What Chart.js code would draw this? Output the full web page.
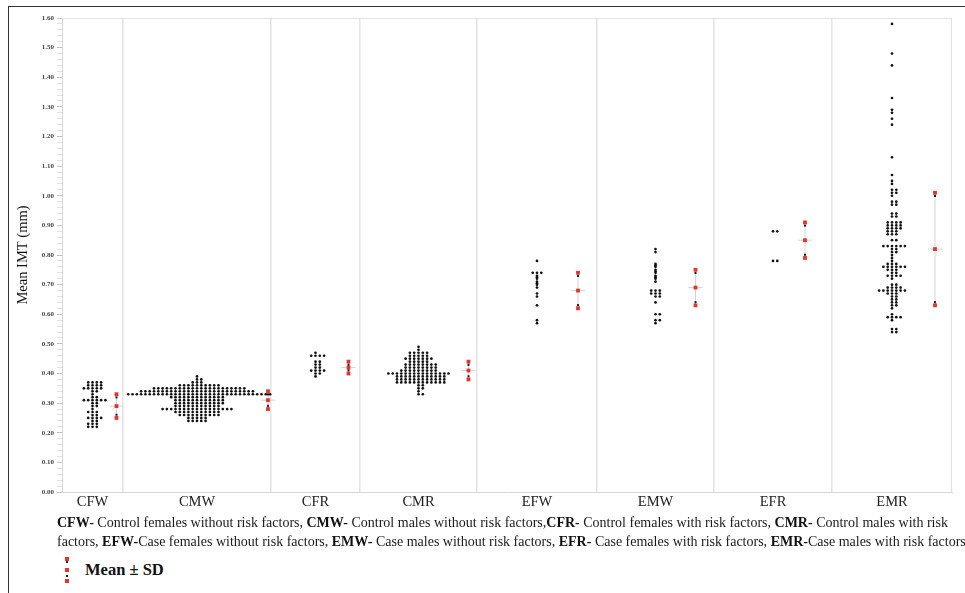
<!DOCTYPE html>
<html>
<head>
<meta charset="utf-8">
<script src="https://cdn.jsdelivr.net/npm/chart.js@4.4.1/dist/chart.umd.min.js"></script>
<style>
  html, body { margin: 0; padding: 0; background: #fff; }
  body { width: 965px; height: 593px; position: relative; overflow: hidden;
         font-family: "Liberation Serif", "Times New Roman", serif; color: #111; }
  #frame { position: absolute; left: 8px; top: 6px; width: 970px; height: 600px;
           border-left: 1.5px solid #333; border-top: 1.5px solid #333; }
  #wrap { position: absolute; left: 0; top: 0; width: 965px; height: 520px; }
  #caption { position: absolute; left: 57px; top: 514px; font-size: 14px; line-height: 18.5px;
             white-space: nowrap; color: #1a1a1a; }
  #caption b { font-weight: bold; color: #111; }
  #legend { position: absolute; left: 62px; top: 552px; width: 140px; height: 34px; }
  #legend .sq { position: absolute; width: 3.5px; height: 3.5px; background: #e8322b; left: 3px; }
  #legend .bk { position: absolute; width: 1.6px; height: 1.6px; background: #222; left: 4px; }
  #legend .txt { position: absolute; left: 23px; top: 8px; font-size: 16.5px; font-weight: bold; color: #111; }
</style>
</head>
<body>
<div id="frame"></div>
<div id="wrap"><canvas id="chart" width="965" height="520"></canvas></div>
<div id="caption">
  <div><b>CFW-</b> Control females without risk factors, <b>CMW-</b> Control males without risk factors,<b>CFR-</b> Control females with risk factors, <b>CMR-</b> Control males with risk</div>
  <div>factors, <b>EFW-</b>Case females without risk factors, <b>EMW-</b> Case males without risk factors, <b>EFR-</b> Case females with risk factors, <b>EMR-</b>Case males with risk factors</div>
</div>
<div id="legend">
  <span class="sq" style="top:5px"></span>
  <span class="bk" style="top:9px"></span>
  <span class="sq" style="top:16px"></span>
  <span class="bk" style="top:23px"></span>
  <span class="sq" style="top:27px"></span>
  <span class="txt">Mean ± SD</span>
</div>
<script>
// Groups
const categories = ['CFW', 'CMW', 'CFR', 'CMR', 'EFW', 'EMW', 'EFR', 'EMR'];

// Mean IMT (mm) levels and number of subjects at each level, per group
const cfwLevels = [0.37, 0.36, 0.35, 0.34, 0.33, 0.32, 0.31, 0.30, 0.29, 0.28, 0.27, 0.26, 0.25, 0.24, 0.23, 0.22];
const cfwCounts = [4, 4, 5, 2, 1, 2, 6, 2, 2, 1, 3, 2, 4, 2, 3, 3];

const cmwLevels = [0.39, 0.38, 0.37, 0.36, 0.35, 0.34, 0.33, 0.32, 0.31, 0.30, 0.29, 0.28, 0.27, 0.26, 0.25, 0.24];
const cmwCounts = [1, 2, 3, 10, 22, 27, 34, 13, 12, 12, 11, 17, 11, 10, 5, 5];

const cfrLevels = [0.47, 0.46, 0.44, 0.43, 0.42, 0.41, 0.40, 0.39];
const cfrCounts = [1, 4, 2, 2, 2, 4, 2, 1];

const cmrLevels = [0.49, 0.48, 0.47, 0.46, 0.45, 0.44, 0.43, 0.42, 0.41, 0.40, 0.39, 0.38, 0.37, 0.36, 0.35, 0.34, 0.33];
const cmrCounts = [1, 1, 5, 5, 7, 5, 8, 8, 9, 15, 12, 12, 12, 2, 2, 1, 2];

const efwLevels = [0.78, 0.74, 0.73, 0.725, 0.72, 0.71, 0.705, 0.70, 0.69, 0.67, 0.66, 0.63, 0.58, 0.57];
const efwCounts = [1, 3, 1, 1, 1, 1, 1, 1, 1, 1, 1, 1, 1, 1];

const emwLevels = [0.82, 0.81, 0.77, 0.765, 0.76, 0.75, 0.745, 0.74, 0.73, 0.725, 0.72, 0.71, 0.68, 0.67, 0.66, 0.64, 0.60, 0.58, 0.57];
const emwCounts = [1, 1, 1, 1, 1, 1, 1, 1, 1, 1, 1, 1, 3, 3, 2, 1, 2, 2, 1];

const efrLevels = [0.88, 0.78];
const efrCounts = [2, 2];

const emrLevels = [1.58, 1.48, 1.44, 1.33, 1.29, 1.28, 1.26, 1.24, 1.13, 1.07, 1.05, 1.04,
                   1.02, 1.01, 1.00, 0.98, 0.97, 0.94, 0.93, 0.91, 0.90, 0.89, 0.88, 0.87, 0.85, 0.83,
                   0.82, 0.81, 0.80, 0.79, 0.78, 0.77, 0.76, 0.75, 0.74, 0.73, 0.72,
                   0.70, 0.69, 0.68, 0.67, 0.66, 0.65, 0.64, 0.63, 0.62, 0.60, 0.59, 0.58, 0.55, 0.54];
const emrCounts = [1, 1, 1, 1, 1, 1, 1, 1, 1, 1, 1, 1,
                   2, 2, 1, 2, 2, 2, 2, 4, 4, 4, 3, 3, 2, 6,
                   2, 2, 1, 1, 1, 3, 6, 3, 2, 4, 1,
                   2, 4, 7, 3, 2, 2, 2, 2, 1, 1, 4, 1, 2, 2];

// Group mean and standard deviation (mm)
const meanIMT = [0.29, 0.31, 0.42, 0.41, 0.68, 0.69, 0.85, 0.82];
const sdIMT   = [0.04, 0.03, 0.02, 0.03, 0.06, 0.06, 0.06, 0.19];

// Y axis range and minor step (labels every 0.10)
const yMin = 0, yMax = 1.6, yMinorStep = 0.02;

const groupLevels = [cfwLevels, cmwLevels, cfrLevels, cmrLevels, efwLevels, emwLevels, efrLevels, emrLevels];
const groupCounts = [cfwCounts, cmwCounts, cfrCounts, cmrCounts, efwCounts, emwCounts, efrCounts, emrCounts];

// ---- layout (horizontal units = pixels across the plot area) ----
const bandEdges = [0, 61, 209, 298, 415, 535, 652, 770, 890];   // group separators
const sdOffset  = [24, 71, 33, 50, 41, 40, 32, 43];              // mean±SD marker, right of swarm centre
const DOT_STEP = 4.3;                                            // horizontal spacing of swarm dots

const centers = categories.map((_, i) => (bandEdges[i] + bandEdges[i + 1]) / 2);
const sdX = centers.map((c, i) => c + sdOffset[i]);

// Dots at one level spread outward from the centre: 0, +1, -1, +2, -2, ...
function swarm(levels, counts, center) {
  const pts = [];
  levels.forEach((v, r) => {
    for (let i = 0; i < counts[r]; i++) {
      const k = Math.ceil(i / 2) * (i % 2 ? 1 : -1);
      pts.push({ x: center + k * DOT_STEP, y: v });
    }
  });
  return pts;
}

const dots = [];
groupLevels.forEach((lv, i) => dots.push(...swarm(lv, groupCounts[i], centers[i])));

const sdLines = [];
const sdMarks = [];
meanIMT.forEach((m, i) => {
  const x = sdX[i], lo = m - sdIMT[i], hi = m + sdIMT[i];
  sdLines.push({ x, y: lo }, { x, y: hi }, { x, y: null });
  sdLines.push({ x: x - 7, y: m }, { x: x + 7, y: m }, { x, y: null });
  sdMarks.push({ x, y: hi }, { x, y: m }, { x, y: lo });
});

// thin frame around the plot and the small black whisker caps
const plotDecor = {
  id: 'plotDecor',
  beforeDatasetsDraw(chart) {
    const { ctx, chartArea: a } = chart;
    ctx.save();
    ctx.strokeStyle = '#e2e2e2';
    ctx.lineWidth = 1.2;
    ctx.beginPath();
    ctx.moveTo(a.left, a.top + 0.5);
    ctx.lineTo(a.right - 0.5, a.top + 0.5);
    ctx.lineTo(a.right - 0.5, a.bottom);
    ctx.stroke();
    ctx.restore();
  },
  afterDatasetsDraw(chart) {
    const { ctx, scales: { x, y } } = chart;
    ctx.save();
    ctx.fillStyle = '#1a1a1a';
    meanIMT.forEach((m, i) => {
      const px = x.getPixelForValue(sdX[i]);
      const top = y.getPixelForValue(m + sdIMT[i]);
      const bot = y.getPixelForValue(m - sdIMT[i]);
      ctx.fillRect(px - 1, top + 2.2, 2, 2);
      ctx.fillRect(px - 1, bot - 4.2, 2, 2);
    });
    ctx.restore();
  }
};

new Chart(document.getElementById('chart'), {
  type: 'scatter',
  data: {
    datasets: [
      { data: sdLines, showLine: true, spanGaps: false, borderColor: '#d4d4d4', borderWidth: 1,
        pointRadius: 0, order: 3 },
      { data: dots, pointStyle: 'circle', pointRadius: 1.35, backgroundColor: '#111',
        borderWidth: 0, order: 2 },
      { data: sdMarks, pointStyle: 'rect', pointRadius: 2.7, backgroundColor: '#e8322b',
        borderWidth: 0, order: 1 }
    ]
  },
  options: {
    responsive: false,
    animation: false,
    events: [],
    layout: { padding: { top: 18, right: 13, left: 0, bottom: 0 } },
    plugins: { legend: { display: false }, tooltip: { enabled: false } },
    scales: {
      x: {
        type: 'linear', position: 'bottom', min: bandEdges[0], max: bandEdges[bandEdges.length - 1],
        afterBuildTicks(s) { s.ticks = centers.map(v => ({ value: v })); },
        afterFit(s) { s.height = 28; },
        ticks: {
          autoSkip: false, maxRotation: 0, padding: 1, color: '#222',
          font: { family: 'Liberation Serif', size: 14.5 },
          callback: (v, i) => categories[i]
        },
        grid: { display: false, drawTicks: false },
        border: { color: '#d6d6d6', width: 1 }
      },
      xb: {
        type: 'linear', position: 'bottom', min: bandEdges[0], max: bandEdges[bandEdges.length - 1],
        afterBuildTicks(s) { s.ticks = bandEdges.slice(1, -1).map(v => ({ value: v })); },
        afterFit(s) { s.height = 0; },
        ticks: { display: false },
        grid: { drawOnChartArea: true, drawTicks: false, color: '#e4e4e4', lineWidth: 1.6 },
        border: { display: false }
      },
      y: {
        type: 'linear', min: yMin, max: yMax,
        afterFit(s) { s.width = 62; },
        ticks: {
          stepSize: yMinorStep, autoSkip: false, padding: 3, color: '#444',
          font: { family: 'Liberation Serif', size: 7, weight: 'bold' },
          callback: v => (Math.round(v * 100) % 10 === 0 ? v.toFixed(2) : '')
        },
        grid: {
          drawOnChartArea: false, tickLength: 5, tickWidth: 1,
          tickColor: c => (Math.round(c.tick.value * 100) % 10 === 0 ? '#c4c4c4' : '#e2e2e2')
        },
        border: { color: '#d6d6d6', width: 1 },
        title: {
          display: true, text: 'Mean IMT (mm)', color: '#111',
          font: { family: 'Liberation Serif', size: 14.5 },
          padding: { top: 14, bottom: 0 }
        }
      }
    }
  },
  plugins: [plotDecor]
});
</script>
</body>
</html>
